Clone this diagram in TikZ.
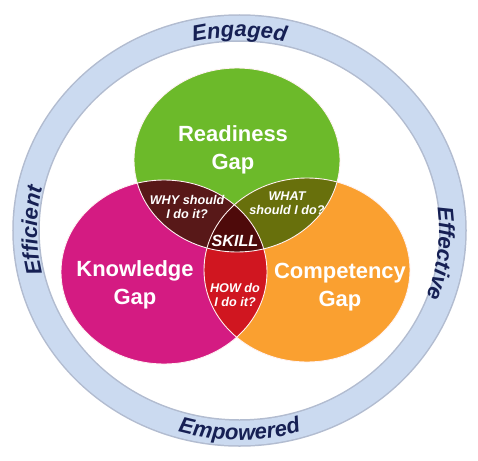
\documentclass[tikz,border=0pt]{standalone}
\usepackage{fontspec}
\setmainfont{Liberation Sans}
\usetikzlibrary{calc,decorations.text}
\definecolor{readyGreen}{RGB}{108,186,42}
\definecolor{knowMagenta}{RGB}{212,27,130}
\definecolor{compOrange}{RGB}{250,160,48}
\definecolor{whyBrown}{RGB}{88,24,24}
\definecolor{whatOlive}{RGB}{104,112,12}
\definecolor{howRed}{RGB}{208,22,32}
\definecolor{skillMaroon}{RGB}{78,10,10}
\definecolor{ringBlue}{RGB}{203,218,240}
\definecolor{ringEdge}{RGB}{178,188,208}
\definecolor{ringText}{RGB}{22,32,84}
\newcommand{\ringfont}{\fontsize{12.5}{14}\selectfont\bfseries\itshape}

\begin{document}
\begin{tikzpicture}[
  gapsize/.style={x radius=2.06cm,y radius=1.84cm},
  gaplabel/.style={text=white,font=\fontsize{12.5}{16}\selectfont\bfseries,align=center},
  asklabel/.style={text=white,font=\fontsize{7.2}{8}\selectfont\bfseries\itshape,align=center},
  ringlabel/.style={decorate,decoration={text along path,text align=center,text color=ringText}}]
\useasboundingbox (0,0) rectangle (9.56,9.2);
\coordinate (ringc) at (4.79,4.59);
% outer ring
\draw[ringEdge,line width=0.55cm] (ringc) ellipse (4.27 and 4.05);
\draw[ringBlue,line width=0.49cm] (ringc) ellipse (4.27 and 4.05);
% the three gaps
\coordinate (ready) at (4.74,6.00);
\coordinate (know) at (3.28,3.76);
\coordinate (comp) at (6.14,3.80);
\fill[readyGreen] (ready) ellipse[gapsize];
\fill[knowMagenta] (know) ellipse[gapsize];
\fill[compOrange] (comp) ellipse[gapsize];
\begin{scope}
  \clip (ready) ellipse[gapsize];
  \fill[whyBrown] (know) ellipse[gapsize];
  \fill[whatOlive] (comp) ellipse[gapsize];
\end{scope}
\begin{scope}
  \clip (know) ellipse[gapsize];
  \fill[howRed] (comp) ellipse[gapsize];
  \clip (comp) ellipse[gapsize];
  \fill[skillMaroon] (ready) ellipse[gapsize];
\end{scope}
\foreach \c in {ready,know,comp}
  \draw[white!80!pink,line width=0.5pt] (\c) ellipse[gapsize];
% labels
\node[gaplabel] (readylabel) at (4.66,6.20) {Readiness\\Gap};
\node[gaplabel] (knowlabel) at (2.70,3.50) {Knowledge\\Gap};
\node[gaplabel] (complabel) at (6.80,3.45) {Competency\\Gap};
\node[asklabel] (why) at (3.74,5.06) {WHY should\\I do it?};
\node[asklabel] (what) at (5.74,5.14) {WHAT\\should I do?};
\node[asklabel] (how) at (4.70,3.30) {HOW do\\I do it?};
\node[asklabel,font=\fontsize{9.2}{10}\selectfont\bfseries\itshape] (skill) at (4.70,4.38) {SKILL};
% ring words
\path[ringlabel,decoration={text={|\ringfont|Engaged}}]
  ($(ringc)+(120:4.09 and 3.87)$) arc[start angle=120,end angle=60,x radius=4.09,y radius=3.87];
\path[ringlabel,decoration={text={|\ringfont|Empowered}}]
  ($(ringc)+(235:4.41 and 4.19)$) arc[start angle=235,end angle=305,x radius=4.41,y radius=4.19];
\path[ringlabel,decoration={text={|\ringfont|Efficient}}]
  ($(ringc)+(210:4.05 and 3.83)$) arc[start angle=210,end angle=150,x radius=4.05,y radius=3.83];
\path[ringlabel,decoration={text={|\ringfont|Effective}}]
  ($(ringc)+(23.2:3.99 and 3.77)$) arc[start angle=23.2,end angle=-36.8,x radius=3.99,y radius=3.77];
\end{tikzpicture}
\end{document}
